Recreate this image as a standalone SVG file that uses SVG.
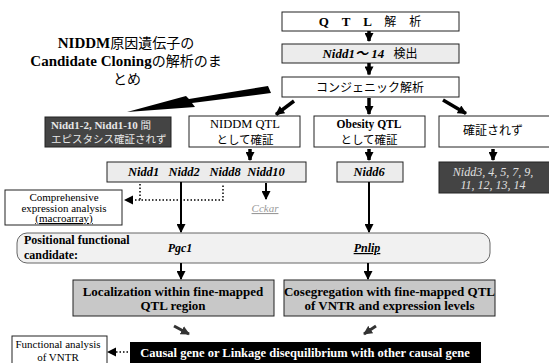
<svg xmlns="http://www.w3.org/2000/svg" width="549" height="363" viewBox="0 0 549 363">
<defs>
<marker id="hd" markerUnits="userSpaceOnUse" viewBox="0 0 10 10" markerWidth="10" markerHeight="9" refX="9" refY="5" orient="auto"><path d="M0,0 L10,5 L0,10 z" fill="#000"/></marker>
<marker id="hg" markerUnits="userSpaceOnUse" viewBox="0 0 10 10" markerWidth="9" markerHeight="9" refX="9" refY="5" orient="auto"><path d="M0,0 L10,5 L0,10 z" fill="#333"/></marker>
</defs>
<style>
text{font-family:"Liberation Serif","Times New Roman",Tinos,"DejaVu Serif","Noto Sans CJK JP",serif;fill:#000;text-anchor:middle}
.b{fill:#fff;stroke:#222;stroke-width:1}
.l{fill:#ececec;stroke:#222;stroke-width:1}
.g{fill:#c8c8c8;stroke:#222;stroke-width:1}
.d{fill:#444;stroke:#222;stroke-width:1}
.bold{font-weight:bold}
.it{font-style:italic;font-weight:bold}
.jp{font-family:"Noto Sans CJK JP",sans-serif;font-weight:normal}
.s{stroke:#000;stroke-width:3.5;fill:none;marker-end:url(#hd)}
.t{stroke:#000;stroke-width:2;fill:none;marker-end:url(#hd)}
.dot{stroke:#000;stroke-width:1.5;stroke-dasharray:1.5 2;fill:none}
</style>
<g id="title">
<text x="126" y="48" font-size="15" class="bold">NIDDM<tspan class="jp" font-size="14">原因遺伝子の</tspan></text>
<text x="126" y="66" font-size="15" class="bold">Candidate Cloning<tspan class="jp" font-size="14">の解析のま</tspan></text>
<text x="127" y="84" font-size="14" class="jp">とめ</text>
</g>
<g id="qtl"><rect class="b" x="282" y="12" width="177" height="19"/><text x="370" y="26" font-size="13" class="bold" xml:space="preserve">Q    T    L    <tspan class="jp" font-size="12">解</tspan>    <tspan class="jp" font-size="12">析</tspan></text></g>
<g id="nidd114"><rect class="l" x="282" y="44" width="177" height="19"/><text x="370" y="58" font-size="13" class="it">Nidd1～ 14 <tspan class="jp" font-size="12" font-style="normal" dx="6">検出</tspan></text></g>
<g id="congenic"><rect class="b" x="282" y="77" width="177" height="20"/><text x="370" y="91.5" font-size="12" class="jp">コンジェニック解析</text></g>
<g id="epistasis"><rect class="d" x="45" y="117" width="126" height="30"/>
<text x="51" y="128.5" font-size="11" class="bold" style="text-anchor:start;fill:#e8e8e8">Nidd1-2, Nidd1-10 <tspan class="jp" font-size="10.5" style="fill:#e8e8e8">間</tspan></text>
<text x="51" y="143" font-size="10.5" class="jp" style="text-anchor:start;fill:#e8e8e8">エピスタシス確証されず</text></g>
<g id="niddmqtl"><rect class="b" x="189" y="116" width="111" height="31"/>
<text x="245" y="127.5" font-size="12.5">NIDDM QTL</text><text x="245" y="143.5" font-size="11.5" class="jp">として確証</text></g>
<g id="obesity"><rect class="b" x="314" y="116" width="111" height="31"/>
<text x="369" y="127.5" font-size="11.5" class="bold">Obesity QTL</text><text x="369" y="143.5" font-size="11.5" class="jp">として確証</text></g>
<g id="notconfirmed"><rect class="b" x="439" y="116" width="112" height="31"/><text x="493" y="135" font-size="12" class="jp">確証されず</text></g>
<g id="niddrow"><rect class="l" x="107" y="162" width="199" height="20"/>
<text x="143.5" y="176" font-size="12.5" class="it">Nidd1</text><text x="184" y="176" font-size="12.5" class="it">Nidd2</text><text x="225" y="176" font-size="12.5" class="it">Nidd8</text><text x="266" y="176" font-size="12.5" class="it">Nidd10</text></g>
<g id="nidd6"><rect class="l" x="337" y="162" width="66" height="20"/><text x="369" y="176" font-size="12.5" class="it">Nidd6</text></g>
<g id="niddrest"><rect class="d" x="439" y="162" width="112" height="31"/>
<text x="493" y="175.5" font-size="12" font-style="italic" style="fill:#e0e0e0">Nidd3, 4, 5, 7, 9,</text><text x="493" y="189" font-size="12" font-style="italic" style="fill:#e0e0e0">11, 12, 13, 14</text></g>
<g id="comprehensive"><rect class="b" x="5" y="190" width="117" height="35"/>
<text x="64" y="201" font-size="11">Comprehensive</text><text x="64" y="211.5" font-size="11">expression analysis</text><text x="64" y="222" font-size="11" text-decoration="underline">(macroarray)</text></g>
<g id="cckar"><text x="265" y="212" font-size="11" font-style="italic" text-decoration="underline" style="fill:#999">Cckar</text></g>
<g id="positional"><rect x="17" y="233" width="473" height="30" rx="10" fill="#f1f1f1" stroke="#666" stroke-width="1"/>
<text x="24" y="244" font-size="12" class="bold" style="text-anchor:start">Positional functional</text><text x="24" y="259" font-size="12" class="bold" style="text-anchor:start">candidate:</text>
<text x="180" y="252" font-size="12" class="it">Pgc1</text><text x="367" y="252" font-size="12" class="it" text-decoration="underline">Pnlip</text></g>
<g id="localization"><rect class="g" x="73" y="280" width="201" height="36"/>
<text x="173" y="296" font-size="13" class="bold">Localization within fine-mapped</text><text x="173" y="310" font-size="13" class="bold">QTL region</text></g>
<g id="cosegregation"><rect class="g" x="284" y="280" width="211" height="36"/>
<text x="389.5" y="296" font-size="13" class="bold">Cosegregation with fine-mapped QTL</text><text x="389.5" y="310" font-size="13" class="bold">of VNTR and expression levels</text></g>
<g id="causal"><rect x="130" y="342" width="351" height="24" fill="#000"/><text x="305" y="357" font-size="12.5" class="bold" style="fill:#fff">Causal gene or Linkage disequilibrium with other causal gene</text></g>
<g id="functional"><rect class="b" x="12" y="336" width="95" height="30"/><text x="58" y="347.5" font-size="11">Functional analysis</text><text x="58" y="361" font-size="11">of VNTR</text></g>
<g id="connectors">
<line class="s" x1="369" y1="31" x2="369" y2="41"/>
<line class="s" x1="369" y1="63" x2="369" y2="74.5"/>
<polygon points="268,86 271,93 192,103 195,107 127,112 186,96 189,99" fill="#000"/>
<line class="s" x1="294" y1="101" x2="276" y2="114.5"/>
<line class="s" x1="369" y1="98" x2="369" y2="114"/>
<line class="s" x1="443" y1="100" x2="466" y2="113.5"/>
<line class="s" x1="250" y1="149" x2="250" y2="160"/>
<line class="s" x1="369" y1="149" x2="369" y2="160"/>
<line class="s" x1="493" y1="149" x2="493" y2="160"/>
<polyline class="dot" points="140,184 140,200 223,200 223,184"/>
<line class="dot" x1="140" y1="200" x2="131" y2="200"/>
<path d="M124,200 L133,195.5 L133,204.5 z" fill="#000"/>
<line class="t" x1="181" y1="182" x2="181" y2="232"/>
<line class="t" x1="266" y1="183" x2="266" y2="199"/>
<line class="t" x1="369" y1="182" x2="369" y2="232"/>
<line class="t" x1="181" y1="263" x2="181" y2="279"/>
<line class="t" x1="368" y1="263" x2="368" y2="279"/>
<line stroke="#333" stroke-width="3" marker-end="url(#hg)" x1="174" y1="326" x2="189" y2="334"/>
<line stroke="#333" stroke-width="3" marker-end="url(#hg)" x1="376" y1="326" x2="364" y2="334"/>
<line class="dot" x1="128" y1="352" x2="115" y2="352"/>
<path d="M107,352 L116,347.5 L116,356.5 z" fill="#000"/>
</g>
</svg>
